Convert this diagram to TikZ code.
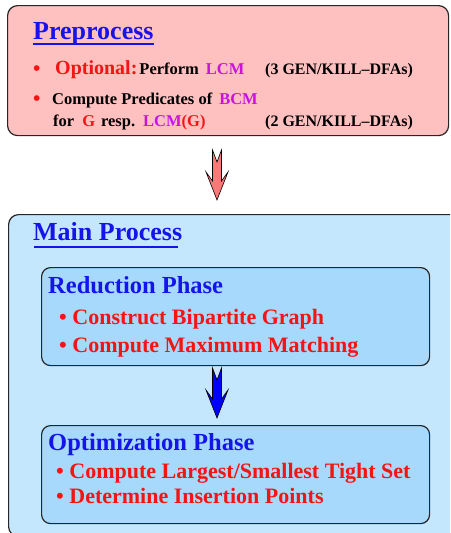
\documentclass[tikz,border=0pt]{standalone}
\usepackage{fontspec}
\setmainfont{Liberation Serif}
\usetikzlibrary{positioning, calc}
\definecolor{prefill}{RGB}{255,192,192}
\definecolor{mainfill}{RGB}{197,231,253}
\definecolor{phasefill}{RGB}{166,217,252}
\definecolor{titleblue}{RGB}{20,20,235}
\definecolor{itemred}{RGB}{245,20,20}
\definecolor{lcmpurple}{RGB}{200,20,220}
\definecolor{pinkarrow}{RGB}{250,120,120}

\begin{document}
\begin{tikzpicture}[
        x=1pt, y=-1pt,
        panel/.style={rectangle, draw=black!85, line width=1.2pt, rounded corners=10pt, anchor=north west, inner sep=0pt},
        phasebox/.style={panel, fill=phasefill, rounded corners=9pt, minimum width=388pt, minimum height=98pt},
        heading/.style={anchor=base west, inner sep=0pt, font=\bfseries\fontsize{26}{28}\selectfont, text=titleblue},
        phasetitle/.style={anchor=base west, inner sep=0pt, font=\bfseries\fontsize{24.5}{26}\selectfont, text=titleblue},
        bigitem/.style={anchor=base west, inner sep=0pt, font=\bfseries\fontsize{22}{24}\selectfont, text=itemred},
        smallitem/.style={anchor=base west, inner sep=0pt, font=\bfseries\fontsize{16.5}{18}\selectfont},
        dfa/.style={anchor=base west, inner sep=0pt, font=\bfseries\fontsize{16}{18}\selectfont},
        uline/.style={draw=titleblue, line width=1.5pt},
        fatarrow/.pic={\filldraw[draw=black, line width=0.6pt, pic actions]
            (-4.5,0) -- (0,12) -- (4.5,0) -- (4.5,31) -- (11,22) -- (0,50)
            -- (-11,22) -- (-4.5,31) -- cycle;}
    ]
        \useasboundingbox (0,0) rectangle (450,533);
        \clip (0,0) rectangle (450,533);

        % PREPROCESS
        \node[panel, fill=prefill, minimum width=441pt, minimum height=130pt] (pre) at (7,5) {};
        \node[heading] (pretitle) at (33,39) {Preprocess};
        \draw[uline] (pretitle.base west) ++(0,5) coordinate (preul) -- ($(pretitle.base east)+(0,5)$);
        \node[smallitem, text=itemred, font=\bfseries\fontsize{21}{22}\selectfont] (bulA) at (33,75) {\textbullet};
        \node[smallitem] (optline) at (55,74)
            {{\color{itemred}\fontsize{20}{22}\selectfont Optional:}\hspace{2pt}Perform\hspace{7pt}{\color{lcmpurple}LCM}};
        \node[dfa] (dfaA) at (265,74) {(3 GEN/KILL\textendash DFAs)};
        \node[smallitem, text=itemred, font=\bfseries\fontsize{21}{22}\selectfont] (bulB) at (33,105) {\textbullet};
        \node[smallitem] (predline) at (52,104) {Compute Predicates of\hspace{7pt}{\color{lcmpurple}BCM}};
        \node[smallitem] (forline) at (53,126)
            {for\hspace{8pt}{\color{itemred}G}\hspace{6pt}resp.\hspace{8pt}{\color{lcmpurple}LCM}{\color{itemred}(G)}};
        \node[dfa] (dfaB) at (265,126) {(2 GEN/KILL\textendash DFAs)};

        % MAIN PROCESS
        \node[panel, fill=mainfill, minimum width=460pt, minimum height=322pt] (main) at (8,214) {};
        \node[heading] (maintitle) at (33,240) {Main Process};
        \draw[uline] ($(maintitle.base west)+(1,7)$) -- ($(maintitle.base east)+(-4,7)$);

        \node[phasebox] (reduce) at (41,267) {};
        \node[phasetitle] (redtitle) at (48,293) {Reduction Phase};
        \node[bigitem] (redA) at (59,324) {\textbullet\ Construct Bipartite Graph};
        \node[bigitem] (redB) at (59,352) {\textbullet\ Compute Maximum Matching};

        \node[phasebox] (optim) at (41,425) {};
        \node[phasetitle] (opttitle) at (48,450) {Optimization Phase};
        \node[bigitem] (optA) at (56,478) {\textbullet\ Compute Largest/Smallest Tight Set};
        \node[bigitem] (optB) at (56,503) {\textbullet\ Determine Insertion Points};

        % ARROWS
        \coordinate (preout) at (217,150);
        \coordinate (redout) at (217,368);
        \pic[fill=pinkarrow] at (preout) {fatarrow};
        \pic[fill=blue] at (redout) {fatarrow};
    \end{tikzpicture}
\end{document}
